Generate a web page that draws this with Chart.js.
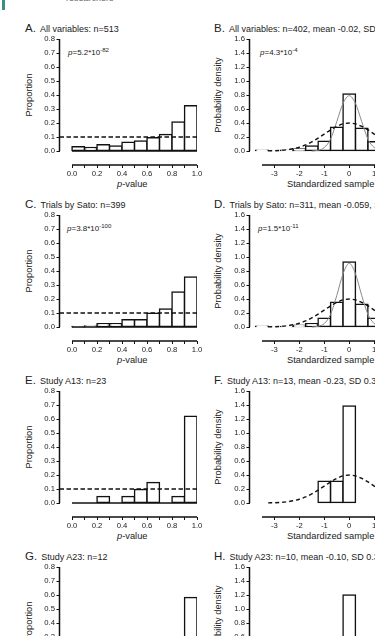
<!DOCTYPE html>
<html>
<head>
<meta charset="utf-8">
<script src="https://cdn.jsdelivr.net/npm/chart.js@4.4.1/dist/chart.umd.min.js"></script>
<style>
  html, body { margin: 0; padding: 0; width: 375px; height: 636px; overflow: hidden; background: #fff; }
  body { position: relative; font-family: "Liberation Sans", Arial, sans-serif; color: #222; }
  canvas { position: absolute; }
  .ttl { position: absolute; white-space: nowrap; font-size: 9px; line-height: 12px; }
  .ttl b { font-weight: normal; font-size: 11.5px; margin-right: 4px; }
  .pv { position: absolute; white-space: nowrap; font-size: 8px; line-height: 10px; }
  .pv sup { font-size: 6px; vertical-align: 3px; line-height: 0; }
  .yt { position: absolute; white-space: nowrap; font-size: 9.3px; transform: translate(-50%, -50%) rotate(-90deg); }
  .xt { position: absolute; white-space: nowrap; font-size: 9.3px; line-height: 12px; }
  .bar { position: absolute; left: 2px; top: 0; width: 3px; height: 10px; background: #3b8c8a; }
  .head { position: absolute; left: 66px; top: -7px; font-size: 9px; color: #666; }
</style>
</head>
<body>
<div class="bar"></div>
<div class="head">researchers</div>

<div class="ttl" style="left:25px;top:22px"><b>A.</b>All variables: n=513</div>
<div class="ttl" style="left:214px;top:22px"><b>B.</b>All variables: n=402, mean -0.02, SD 0.50</div>
<div class="ttl" style="left:25px;top:198px"><b>C.</b>Trials by Sato: n=399</div>
<div class="ttl" style="left:214px;top:198px"><b>D.</b>Trials by Sato: n=311, mean -0.059, SD 0.43</div>
<div class="ttl" style="left:25px;top:374px"><b>E.</b>Study A13: n=23</div>
<div class="ttl" style="left:214px;top:374px"><b>F.</b>Study A13: n=13, mean -0.23, SD 0.37</div>
<div class="ttl" style="left:25px;top:550px"><b>G.</b>Study A23: n=12</div>
<div class="ttl" style="left:214px;top:550px"><b>H.</b>Study A23: n=10, mean -0.10, SD 0.32</div>

<div class="pv" style="left:68px;top:48px"><i>p</i>=5.2*10<sup>-82</sup></div>
<div class="pv" style="left:260px;top:48px"><i>p</i>=4.3*10<sup>-4</sup></div>
<div class="pv" style="left:67px;top:224px"><i>p</i>=3.8*10<sup>-100</sup></div>
<div class="pv" style="left:258px;top:224px"><i>p</i>=1.5*10<sup>-11</sup></div>

<div class="yt" style="left:29px;top:95px">Proportion</div>
<div class="yt" style="left:29px;top:271px">Proportion</div>
<div class="yt" style="left:29px;top:447px">Proportion</div>
<div class="yt" style="left:29px;top:623px">Proportion</div>
<div class="yt" style="left:218px;top:95px">Probability density</div>
<div class="yt" style="left:218px;top:271px">Probability density</div>
<div class="yt" style="left:218px;top:447px">Probability density</div>
<div class="yt" style="left:218px;top:623px">Probability density</div>

<div class="xt" style="left:117px;top:178px"><i>p</i>-value</div>
<div class="xt" style="left:117px;top:354px"><i>p</i>-value</div>
<div class="xt" style="left:117px;top:530px"><i>p</i>-value</div>
<div class="xt" style="left:287px;top:178px">Standardized sample values</div>
<div class="xt" style="left:287px;top:354px">Standardized sample values</div>
<div class="xt" style="left:287px;top:530px">Standardized sample values</div>

<canvas id="chartA" width="205" height="165" style="left:0;top:30px;width:205px;height:165px"></canvas>
<canvas id="chartB" width="267" height="165" style="left:190px;top:30px;width:267px;height:165px"></canvas>
<canvas id="chartC" width="205" height="165" style="left:0;top:206px;width:205px;height:165px"></canvas>
<canvas id="chartD" width="267" height="165" style="left:190px;top:206px;width:267px;height:165px"></canvas>
<canvas id="chartE" width="205" height="165" style="left:0;top:382px;width:205px;height:165px"></canvas>
<canvas id="chartF" width="267" height="165" style="left:190px;top:382px;width:267px;height:165px"></canvas>
<canvas id="chartG" width="205" height="165" style="left:0;top:558px;width:205px;height:165px"></canvas>
<canvas id="chartH" width="267" height="165" style="left:190px;top:558px;width:267px;height:165px"></canvas>

<script>
// p-value histograms: bin centres (width 0.1)
const pBins = [0.05, 0.15, 0.25, 0.35, 0.45, 0.55, 0.65, 0.75, 0.85, 0.95];
const pTicks = [0, 0.1, 0.2, 0.3, 0.4, 0.5, 0.6, 0.7, 0.8, 0.9, 1.0];
const pLabelled = [0, 0.2, 0.4, 0.6, 0.8, 1.0];
const propTicks = [0, 0.1, 0.2, 0.3, 0.4, 0.5, 0.6, 0.7, 0.8];
const expectedProp = 0.1;

const propAll  = [0.03, 0.025, 0.045, 0.036, 0.062, 0.071, 0.095, 0.117, 0.207, 0.324];
const propSato = [0.002, 0.007, 0.024, 0.024, 0.052, 0.052, 0.098, 0.129, 0.25, 0.357];
const propA13  = [0, 0, 0.046, 0, 0.046, 0.097, 0.146, 0, 0.046, 0.62];
const propA23  = [0, 0, 0, 0, 0, 0.083, 0.083, 0.083, 0.167, 0.583];

// standardized sample histograms: bin centres (width 0.5)
const zBins = [-3.5, -3, -2.5, -2, -1.5, -1, -0.5, 0, 0.5, 1, 1.5, 2, 2.5, 3, 3.5];
const zTicks = [-3, -2, -1, 0, 1, 2, 3];
const densTicks = [0, 0.2, 0.4, 0.6, 0.8, 1.0, 1.2, 1.4, 1.6];

const densAll  = [0.01, 0, 0.01, 0.03, 0.072, 0.14, 0.338, 0.814, 0.324, 0.133, 0.07, 0.03, 0.01, 0.005, 0.01];
const densSato = [0.01, 0, 0.006, 0.024, 0.048, 0.124, 0.352, 0.929, 0.324, 0.124, 0.05, 0.02, 0.006, 0, 0];
const densA13  = [0, 0, 0, 0, 0, 0.31, 0.31, 1.385, 0, 0, 0, 0, 0, 0, 0];
const densA23  = [0, 0, 0, 0, 0, 0.2, 0.4, 1.2, 0.2, 0, 0, 0, 0, 0, 0];

// dashed reference curve (standard normal)
const refX = [-3.25, -3, -2.75, -2.5, -2.25, -2, -1.75, -1.5, -1.25, -1, -0.75, -0.5, -0.25, 0,
              0.25, 0.5, 0.75, 1, 1.25, 1.5, 1.75, 2, 2.25, 2.5, 2.75, 3, 3.25];
const refY = [0.002, 0.004, 0.009, 0.018, 0.032, 0.054, 0.086, 0.13, 0.183, 0.242, 0.301, 0.352, 0.387, 0.399,
              0.387, 0.352, 0.301, 0.242, 0.183, 0.13, 0.086, 0.054, 0.032, 0.018, 0.009, 0.004, 0.002];

// thin grey fitted curves
const fitX = [-1.5, -1.25, -1, -0.75, -0.5, -0.25, 0, 0.25, 0.5, 0.75, 1, 1.25, 1.5];
const fitAll  = [0, 0.01, 0.05, 0.17, 0.42, 0.68, 0.79, 0.68, 0.42, 0.17, 0.05, 0.01, 0];
const fitSato = [0, 0.01, 0.05, 0.18, 0.45, 0.76, 0.91, 0.76, 0.45, 0.18, 0.05, 0.01, 0];

Chart.defaults.font.family = '"Liberation Sans", Arial, sans-serif';
Chart.defaults.font.size = 7.7;
Chart.defaults.color = '#222';
Chart.defaults.animation = false;
Chart.defaults.plugins.legend.display = false;
Chart.defaults.plugins.tooltip.enabled = false;

// detached Prism-style axis lines
const prismAxes = {
  id: 'prismAxes',
  beforeDatasetsDraw(chart, args, opts) {
    const { ctx, scales: { x, y } } = chart;
    ctx.save();
    ctx.strokeStyle = '#111';
    ctx.lineWidth = 1.5;
    ctx.beginPath();
    ctx.moveTo(x.left, y.getPixelForValue(0));
    ctx.lineTo(x.left, y.top);
    ctx.moveTo(x.getPixelForValue(opts.from), y.bottom);
    ctx.lineTo(x.getPixelForValue(opts.to), y.bottom);
    ctx.stroke();
    ctx.restore();
  }
};

const pts = (xs, ys) => xs.map((v, i) => ({ x: v, y: ys[i] }));

function bars(xs, ys) {
  return {
    type: 'bar', data: pts(xs, ys), order: 3,
    backgroundColor: '#fff', borderColor: '#111', borderWidth: 1.5,
    borderSkipped: false, inflateAmount: 0.75,
    barPercentage: 1, categoryPercentage: 1
  };
}

function line(xs, ys, color, width, dash) {
  return {
    type: 'line', data: pts(xs, ys), order: 1,
    borderColor: color, borderWidth: width, borderDash: dash || [],
    pointRadius: 0, cubicInterpolationMode: 'monotone', fill: false
  };
}

function panel(id, datasets, kind) {
  const isP = kind === 'p';
  return new Chart(document.getElementById(id), {
    type: 'bar',
    data: { datasets: datasets },
    plugins: [prismAxes],
    options: {
      responsive: false,
      layout: { padding: { top: 9, right: 8, bottom: 0, left: 0 } },
      plugins: { prismAxes: isP ? { from: 0, to: 1 } : { from: -3.5, to: 3.5 } },
      scales: {
        x: {
          type: 'linear', offset: false,
          min: isP ? -0.1 : -4, max: isP ? 1 : 4,
          grid: { offset: false, drawOnChartArea: false, tickLength: 3, color: '#111', lineWidth: 1 },
          border: { display: false },
          afterBuildTicks: s => { s.ticks = (isP ? pTicks : zTicks).map(v => ({ value: v })); },
          afterFit: s => { s.height = 30; },
          ticks: {
            autoSkip: false, maxRotation: 0, padding: 1,
            callback: v => isP ? (pLabelled.some(t => Math.abs(t - v) < 1e-6) ? v.toFixed(1) : '') : String(v)
          }
        },
        y: {
          type: 'linear',
          min: isP ? -0.1 : -0.2, max: isP ? 0.8 : 1.6,
          grid: { drawOnChartArea: false, tickLength: 3, color: '#111', lineWidth: 1 },
          border: { display: false },
          afterBuildTicks: s => { s.ticks = (isP ? propTicks : densTicks).map(v => ({ value: v })); },
          afterFit: s => { s.width = 59.5; },
          ticks: { padding: 1.5, callback: v => v.toFixed(1) }
        }
      }
    }
  });
}

function pPanel(id, values) {
  return panel(id, [
    bars(pBins, values),
    line([0, 1], [0, 0], '#111', 1.5),
    line([-0.1, 1], [expectedProp, expectedProp], '#111', 1.3, [4.5, 2.5])
  ], 'p');
}

function zPanel(id, values, fit) {
  const sets = [bars(zBins, values), line(refX, refY, '#111', 1.4, [4, 3])];
  if (fit) sets.push(line(fitX, fit, '#8a8a8a', 1));
  return panel(id, sets, 'z');
}

const chartA = pPanel('chartA', propAll);
const chartC = pPanel('chartC', propSato);
const chartE = pPanel('chartE', propA13);
const chartG = pPanel('chartG', propA23);

const chartB = zPanel('chartB', densAll, fitAll);
const chartD = zPanel('chartD', densSato, fitSato);
const chartF = zPanel('chartF', densA13);
const chartH = zPanel('chartH', densA23);
</script>
</body>
</html>
